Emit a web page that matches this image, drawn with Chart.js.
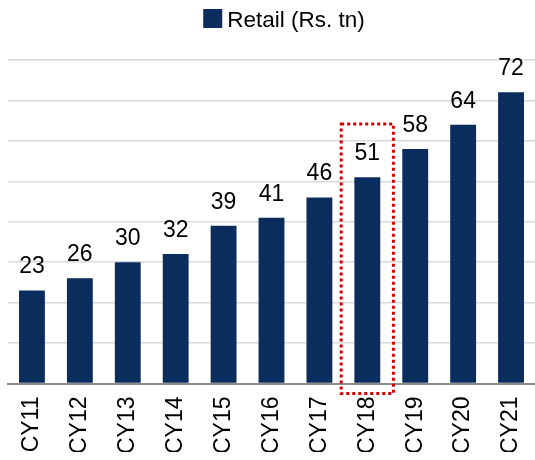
<!DOCTYPE html>
<html>
<head>
<meta charset="utf-8">
<script src="https://cdn.jsdelivr.net/npm/chart.js@4"></script>
<style>
    html, body { margin: 0; padding: 0; background: #fff; }
    #wrap { width: 535px; height: 460px; }
</style>
</head>
<body>
<div id="wrap"><canvas id="retailChart"></canvas></div>
<script>
// Data
const years = ['CY11', 'CY12', 'CY13', 'CY14', 'CY15', 'CY16', 'CY17', 'CY18', 'CY19', 'CY20', 'CY21'];
const retail = [23, 26, 30, 32, 39, 41, 46, 51, 58, 64, 72];
const seriesLabel = 'Retail (Rs. tn)';
const highlightYear = 'CY18';
const highlightTop = 64.2;   // value where the dotted box starts

const FONT = "'Liberation Sans', Arial, sans-serif";
const NAVY = '#0a2d5e';

// Legend drawn by hand so it sits where the original one does
const topLegend = {
    id: 'topLegend',
    afterDraw(chart) {
        const ctx = chart.ctx;
        const ds = chart.data.datasets[0];
        ctx.save();
        ctx.font = '22.5px ' + FONT;
        const tw = ctx.measureText(ds.label).width;
        const total = 19 + 5 + tw;
        const x0 = 284 - total / 2;
        ctx.fillStyle = ds.backgroundColor;
        ctx.fillRect(x0, 9, 19, 19);
        ctx.fillStyle = '#000';
        ctx.textBaseline = 'alphabetic';
        ctx.textAlign = 'left';
        ctx.fillText(ds.label, x0 + 24, 27);
        ctx.restore();
    }
};

// Value labels above the bars
const valueLabels = {
    id: 'valueLabels',
    afterDatasetsDraw(chart) {
        const ctx = chart.ctx;
        const meta = chart.getDatasetMeta(0);
        ctx.save();
        ctx.font = '23px ' + FONT;
        ctx.fillStyle = '#000';
        ctx.textAlign = 'center';
        ctx.textBaseline = 'alphabetic';
        meta.data.forEach((bar, i) => {
            ctx.fillText(String(retail[i]), bar.x, bar.y - 17);
        });
        ctx.restore();
    }
};

// Red dotted box round the highlighted year
const highlightBox = {
    id: 'highlightBox',
    afterDatasetsDraw(chart) {
        const { ctx, scales } = chart;
        const idx = years.indexOf(highlightYear);
        const cx = scales.x.getPixelForValue(idx);
        const half = scales.x.width / years.length * 0.545;
        const top = scales.y.getPixelForValue(highlightTop);
        const bottom = scales.y.getPixelForValue(0) + 10;
        ctx.save();
        ctx.strokeStyle = '#d40000';
        ctx.lineWidth = 3;
        ctx.setLineDash([3, 3]);
        ctx.strokeRect(cx - half, top, half * 2, bottom - top);
        ctx.restore();
    }
};

new Chart(document.getElementById('retailChart'), {
    type: 'bar',
    data: {
        labels: years,
        datasets: [{
            label: seriesLabel,
            data: retail,
            backgroundColor: NAVY,
            borderWidth: 0,
            categoryPercentage: 1,
            barPercentage: 0.54
        }]
    },
    options: {
        responsive: true,
        maintainAspectRatio: false,
        animation: false,
        layout: { padding: { left: 8, right: 0, top: 60, bottom: 8 } },
        plugins: {
            legend: { display: false },
            tooltip: { enabled: false }
        },
        scales: {
            x: {
                grid: { display: false, drawTicks: false },
                border: { display: true, color: '#8c8c8c', width: 2 },
                afterFit: (scale) => {
                    scale.height = 68.5;
                    scale.paddingLeft = 0;
                    scale.paddingRight = 0;
                },
                ticks: {
                    minRotation: 90,
                    maxRotation: 90,
                    padding: 13,
                    color: '#000',
                    font: { family: FONT, size: 23 }
                }
            },
            y: {
                min: 0,
                max: 80,
                ticks: { display: false, stepSize: 10 },
                grid: { color: '#d9d9d9', lineWidth: 1.5, drawTicks: false },
                border: { display: false }
            }
        }
    },
    plugins: [valueLabels, highlightBox, topLegend]
});
</script>
</body>
</html>
